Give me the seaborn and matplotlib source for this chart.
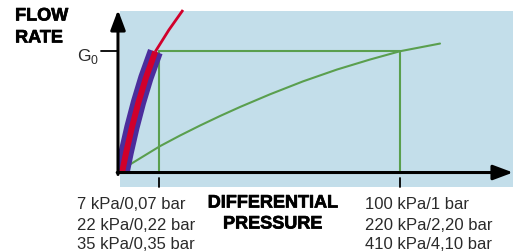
import numpy as np
import pandas as pd
import matplotlib
matplotlib.use("Agg")
import matplotlib.pyplot as plt
import matplotlib.patheffects as pe
import seaborn as sns
from matplotlib.patches import Rectangle

# ---------------- data (x: relative differential pressure, y: flow / G0) ----
red_x = [0.095, 0.20, 0.34, 0.50, 0.68, 0.91]
red_y = [0.0, 0.17, 0.375, 0.58, 0.78, 0.995]
red_ext_x = [0.91, 1.24, 1.585]
red_ext_y = [0.995, 1.172, 1.336]
green_x = [0.073, 1.024, 1.512, 2.000, 2.488, 2.976, 3.707, 4.512, 5.341,
           6.146, 6.878, 7.854]
green_y = [0.025, 0.220, 0.307, 0.389, 0.467, 0.541, 0.645, 0.751, 0.848,
           0.930, 0.998, 1.061]
tick_x = [1.0, 6.878]
g0 = 1.0
left_labels = ["7 kPa/0,07 bar", "22 kPa/0,22 bar", "35 kPa/0,35 bar"]
right_labels = ["100 kPa/1 bar", "220 kPa/2,20 bar", "410 kPa/4,10 bar"]
y_title = ["FLOW", "RATE"]
x_title = ["DIFFERENTIAL", "PRESSURE"]

# ---------------- style ------------------------------------------------------
sns.set_theme(style="white")
plt.rcParams["font.family"] = ["Liberation Sans", "DejaVu Sans"]

BLUE = "#c3deea"
GREEN = "#5a9f4e"
RED = "#d1002b"
PURPLE = "#4b2d9c"
TXT = "#2a2a2a"

fig = plt.figure(figsize=(5.17, 2.53), dpi=100)
ax = fig.add_axes([0, 0, 1, 1])
ax.set_xlim(-2.878, 9.732)
ax.set_ylim(-0.6475, 1.4262)
ax.axis("off")

# background panel
ax.add_patch(Rectangle((0.049, -0.115), 9.585, 1.443, facecolor=BLUE,
                       edgecolor="none", zorder=0))

# green operating lines
ax.plot([tick_x[0], tick_x[0]], [0, g0], color=GREEN, lw=1.5, zorder=2)
ax.plot([tick_x[1], tick_x[1]], [0, g0], color=GREEN, lw=1.5, zorder=2)
ax.plot([tick_x[0], tick_x[1]], [g0, g0], color=GREEN, lw=1.5, zorder=2)

df_g = pd.DataFrame({"x": green_x, "y": green_y})
sns.lineplot(data=df_g, x="x", y="y", color=GREEN, linewidth=1.5, ax=ax,
             zorder=2, legend=False, solid_joinstyle="round")

clip = Rectangle((0, 0), 20, 20, transform=ax.transData)

df_r = pd.DataFrame({"x": red_x, "y": red_y})
sns.lineplot(data=df_r, x="x", y="y", color=PURPLE, linewidth=11, ax=ax,
             zorder=3, legend=False, solid_capstyle="butt",
             solid_joinstyle="round")
ax.lines[-1].set_clip_path(clip)
sns.lineplot(data=df_r, x="x", y="y", color=RED, linewidth=4.3, ax=ax,
             zorder=4, legend=False, solid_capstyle="butt",
             solid_joinstyle="round")
ax.lines[-1].set_clip_path(clip)
df_re = pd.DataFrame({"x": red_ext_x, "y": red_ext_y})
sns.lineplot(data=df_re, x="x", y="y", color=RED, linewidth=2.0, ax=ax,
             zorder=4, legend=False, solid_capstyle="butt",
             solid_joinstyle="round")

# axes arrows
arrow_style = "-|>,head_length=0.8,head_width=0.3"
ax.annotate("", xy=(0, 1.336), xytext=(0, -0.012),
            arrowprops=dict(arrowstyle=arrow_style, lw=2.2, color="black",
                            mutation_scale=15, shrinkA=0, shrinkB=0),
            zorder=6)
ax.annotate("", xy=(9.634, 0.004), xytext=(-0.02, 0.004),
            arrowprops=dict(arrowstyle=arrow_style, lw=2.2, color="black",
                            mutation_scale=15, shrinkA=0, shrinkB=0),
            zorder=6)

# ticks
ax.plot([-0.415, 0], [g0, g0], color="black", lw=1.3, zorder=6)
for tx in tick_x:
    ax.plot([tx, tx], [-0.041, -0.115], color="black", lw=1.3, zorder=6)

# labels
ax.text(-0.47, 0.965, r"G$_\mathregular{0}$", ha="right", va="center",
        fontsize=12.5, color=TXT)
rows = [-0.246, -0.418, -0.574]
for lbl, yy in zip(left_labels, rows):
    ax.text(-1.0, yy, lbl, ha="left", va="center", fontsize=12, color=TXT)
for lbl, yy in zip(right_labels, rows):
    ax.text(6.02, yy, lbl, ha="left", va="center", fontsize=12, color=TXT)
heavy = [pe.withStroke(linewidth=0.5, foreground="black")]
for lbl, yy in zip(x_title, rows[:2]):
    ax.text(3.78, yy, lbl, ha="center", va="center", fontsize=13,
            fontweight="bold", color="black", path_effects=heavy)
for lbl, yy in zip(y_title, [1.287, 1.107]):
    ax.text(-2.51, yy, lbl, ha="left", va="center", fontsize=13,
            fontweight="bold", color="black", path_effects=heavy)

fig.savefig("out.png", dpi=100)
